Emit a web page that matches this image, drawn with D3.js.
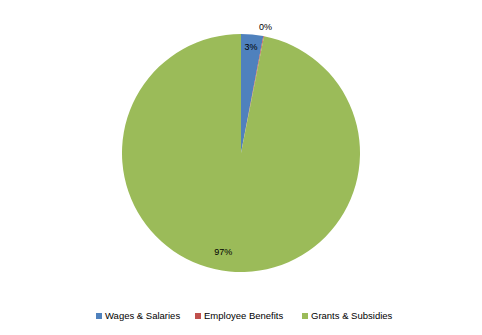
<!DOCTYPE html>
<html>
<head>
<meta charset="utf-8">
<script src="https://cdn.jsdelivr.net/npm/d3@7"></script>
<style>
  body { margin: 0; background: #fff; }
  text { font-family: "Liberation Sans", Arial, sans-serif; fill: #000; }
</style>
</head>
<body>
<div id="chart"></div>
<script>
var categories = ["Wages & Salaries", "Employee Benefits", "Grants & Subsidies"];
var values = [3.0, 0.1, 96.9];
var labels = ["3%", "0%", "97%"];
var colors = ["#4F81BD", "#C0504D", "#9BBB59"];

var width = 482, height = 335;
var cx = 241, cy = 153, radius = 119;

var svg = d3.select("#chart")
  .append("svg")
    .attr("width", width)
    .attr("height", height);

var pie = d3.pie().sort(null).value(function (d) { return d; });
var arcs = pie(values);

var arc = d3.arc().innerRadius(0).outerRadius(radius);

var g = svg.append("g")
  .attr("transform", "translate(" + cx + "," + cy + ")");

g.selectAll("path")
  .data(arcs)
  .enter()
  .append("path")
    .attr("d", arc)
    .style("fill", function (d, i) { return colors[i]; });

// labels: small slice outside, others inside (Excel-ish placement)
var labelRadius = [0.9, 1.08, 0.84];
var labelTurn = [0, 0, 0.08]; // nudge of the big slice label, radians
g.selectAll("text.lbl")
  .data(arcs)
  .enter()
  .append("text")
    .attr("class", "lbl")
    .attr("transform", function (d, i) {
      var a = (d.startAngle + d.endAngle) / 2 + labelTurn[i], r = radius * labelRadius[i];
      return "translate(" + (Math.sin(a) * r) + "," + (-Math.cos(a) * r) + ")";
    })
    .attr("text-anchor", "middle")
    .attr("dy", "0.35em")
    .style("font-size", "9px")
    .text(function (d, i) { return labels[i]; });

// legend
var legendX = d3.scaleOrdinal()
  .domain(categories)
  .range([96, 195, 302]);

var legend = svg.append("g").attr("transform", "translate(0,316)");
var item = legend.selectAll("g")
  .data(categories)
  .enter()
  .append("g")
    .attr("transform", function (d) { return "translate(" + legendX(d) + ",0)"; });

item.append("rect")
  .attr("x", 0).attr("y", -3)
  .attr("width", 6).attr("height", 6)
  .style("fill", function (d, i) { return colors[i]; });

item.append("text")
  .attr("x", 9)
  .attr("dy", "0.35em")
  .style("font-size", "9.5px")
  .text(function (d) { return d; });
</script>
</body>
</html>
